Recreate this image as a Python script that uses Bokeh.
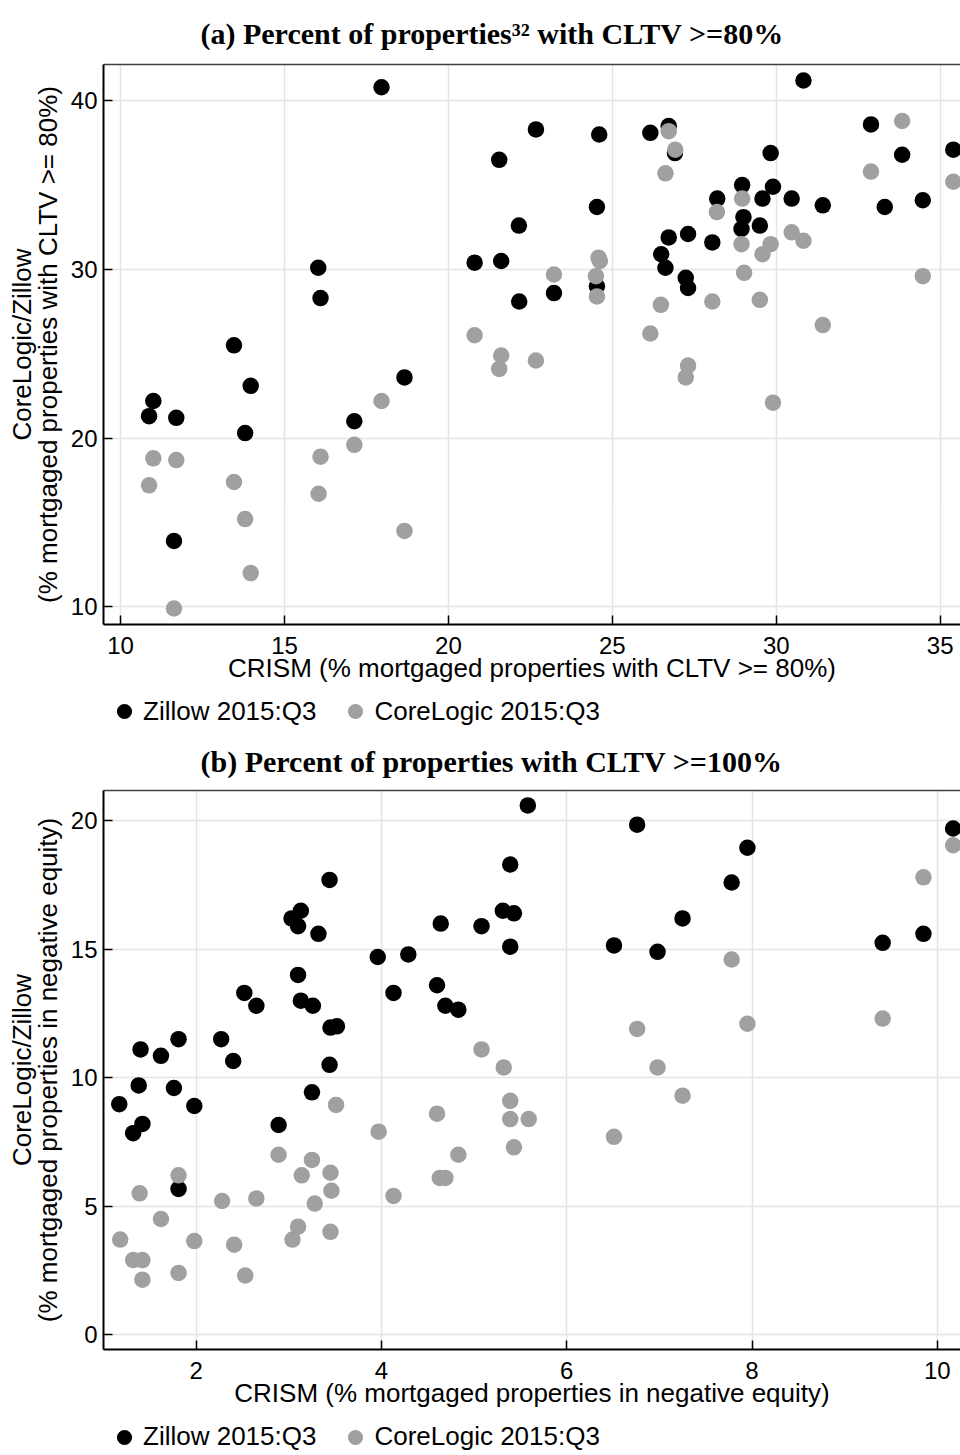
from bokeh.plotting import figure
from bokeh.models import Range1d, LinearAxis, Legend, LegendItem, FixedTicker
from bokeh.layouts import column
from bokeh.embed import file_html
from bokeh.resources import INLINE

# ---- Panel (a): percent of properties with CLTV >= 80% ----
a_zillow_x = [10.87, 11.0, 11.7, 11.63, 13.46, 13.8, 13.97, 16.03, 16.1, 17.13, 17.96, 18.66,
              20.8, 21.55, 21.61, 22.15, 22.16, 22.67, 23.22, 24.53, 24.53, 24.6, 26.16, 26.49,
              26.62, 26.72, 26.72, 26.91, 27.24, 27.31, 27.31, 28.05, 28.2, 28.94, 28.96, 29.0,
              29.5, 29.58, 29.83, 29.9, 30.47, 30.83, 31.42, 32.89, 33.31, 33.84, 34.47, 35.4]
a_zillow_y = [21.3, 22.2, 21.2, 13.9, 25.5, 20.3, 23.1, 30.1, 28.3, 21.0, 40.8, 23.6,
              30.4, 36.5, 30.5, 32.6, 28.1, 38.3, 28.6, 33.7, 29.0, 38.0, 38.1, 30.9,
              30.1, 38.5, 31.9, 36.9, 29.5, 28.9, 32.1, 31.6, 34.2, 32.4, 35.0, 33.1,
              32.6, 34.2, 36.9, 34.9, 34.2, 41.2, 33.8, 38.6, 33.7, 36.8, 34.1, 37.1]
a_core_x = [10.87, 11.0, 11.7, 11.63, 13.46, 13.8, 13.97, 16.04, 16.1, 17.13, 17.96, 18.66,
            20.8, 21.55, 21.61, 22.67, 23.22, 24.5, 24.53, 24.58, 24.62, 26.16, 26.48, 26.62,
            26.72, 26.92, 27.24, 27.31, 28.05, 28.19, 28.94, 28.96, 29.02, 29.5, 29.58, 29.83,
            29.9, 30.47, 30.83, 31.42, 32.89, 33.84, 34.47, 35.4]
a_core_y = [17.2, 18.8, 18.7, 9.9, 17.4, 15.2, 12.0, 16.7, 18.9, 19.6, 22.2, 14.5,
            26.1, 24.1, 24.9, 24.6, 29.7, 29.6, 28.4, 30.7, 30.5, 26.2, 27.9, 35.7,
            38.2, 37.1, 23.6, 24.3, 28.1, 33.4, 31.5, 34.2, 29.8, 28.2, 30.9, 31.5,
            22.1, 32.2, 31.7, 26.7, 35.8, 38.8, 29.6, 35.2]
a_xticks = [10, 15, 20, 25, 30, 35]
a_yticks = [10, 20, 30, 40]

# ---- Panel (b): percent of properties with CLTV >= 100% ----
b_zillow_x = [1.17, 1.32, 1.38, 1.40, 1.42, 1.62, 1.76, 1.81, 1.81, 1.98, 2.27, 2.40, 2.52,
              2.65, 2.89, 3.03, 3.10, 3.10, 3.13, 3.13, 3.25, 3.26, 3.32, 3.44, 3.44, 3.45,
              3.52, 3.96, 4.13, 4.29, 4.60, 4.64, 4.69, 4.83, 5.08, 5.31, 5.39, 5.39, 5.43,
              5.58, 6.51, 6.76, 6.98, 7.25, 7.78, 7.95, 9.41, 9.85, 10.17]
b_zillow_y = [8.97, 7.84, 9.7, 11.1, 8.2, 10.85, 9.6, 11.5, 5.67, 8.9, 11.5, 10.65, 13.3,
              12.8, 8.16, 16.2, 15.9, 14.0, 16.5, 13.0, 9.43, 12.8, 15.6, 17.7, 10.5, 11.95,
              12.0, 14.7, 13.3, 14.8, 13.6, 16.0, 12.8, 12.65, 15.9, 16.5, 18.3, 15.1, 16.4,
              20.6, 15.15, 19.85, 14.9, 16.2, 17.6, 18.95, 15.25, 15.6, 19.7]
b_core_x = [1.18, 1.32, 1.39, 1.42, 1.42, 1.62, 1.81, 1.81, 1.98, 2.28, 2.41, 2.53, 2.65,
            2.89, 3.04, 3.10, 3.14, 3.25, 3.28, 3.45, 3.46, 3.45, 3.51, 3.97, 4.13, 4.60,
            4.63, 4.69, 4.83, 5.08, 5.32, 5.39, 5.39, 5.43, 5.59, 6.51, 6.76, 6.98, 7.25,
            7.78, 7.95, 9.41, 9.85, 10.17]
b_core_y = [3.7, 2.9, 5.5, 2.9, 2.14, 4.5, 6.2, 2.4, 3.64, 5.2, 3.5, 2.3, 5.3,
            7.0, 3.7, 4.2, 6.2, 6.8, 5.1, 6.3, 5.6, 4.0, 8.94, 7.9, 5.4, 8.6,
            6.1, 6.1, 7.0, 11.1, 10.4, 9.1, 8.39, 7.29, 8.39, 7.7, 11.9, 10.4, 9.3,
            14.6, 12.1, 12.3, 17.8, 19.05]
b_xticks = [2, 4, 6, 8, 10]
b_yticks = [0, 5, 10, 15, 20]

series_names = ["Zillow 2015:Q3", "CoreLogic 2015:Q3"]
series_colors = ["#000000", "#a0a0a0"]

SANS = "Liberation Sans"
SERIF = "Liberation Serif"
W = 960


def make_panel(title, zx, zy, cx, cy, xr, yr, xticks, yticks, xlabel, ylabel,
               height, border_top, border_bottom, title_standoff):
    p = figure(width=W, height=height, output_backend="svg", toolbar_location=None,
               x_range=Range1d(*xr), y_range=Range1d(*yr),
               min_border_left=103, min_border_right=0,
               min_border_top=border_top, min_border_bottom=border_bottom)
    p.outline_line_color = None
    p.background_fill_color = "white"
    p.border_fill_color = "white"

    p.title.text = title
    p.title.text_font = SERIF
    p.title.text_font_style = "bold"
    p.title.text_font_size = "30px"
    p.title.align = "left"
    p.title.offset = 97
    p.title.standoff = title_standoff
    p.title.text_color = "black"

    for ax, ticks in ((p.xaxis[0], xticks), (p.yaxis[0], yticks)):
        ax.ticker = FixedTicker(ticks=ticks)
        ax.major_tick_in = 9
        ax.major_tick_out = 0
        ax.minor_tick_in = 0
        ax.minor_tick_out = 0
        ax.axis_line_color = "black"
        ax.axis_line_width = 2
        ax.major_tick_line_color = "black"
        ax.major_tick_line_width = 1.5
        ax.major_label_text_font = SANS
        ax.major_label_text_font_size = "24px"
        ax.major_label_text_color = "black"
        ax.axis_label_text_font = SANS
        ax.axis_label_text_font_size = "26px"
        ax.axis_label_text_font_style = "normal"
        ax.axis_label_text_color = "black"
        ax.axis_label_text_line_height = 0.87
    p.xaxis.axis_label = xlabel
    p.yaxis.axis_label = ylabel
    p.xaxis.major_label_standoff = 12
    p.xaxis.axis_label_standoff = -4
    p.yaxis.major_label_standoff = 6
    p.yaxis.axis_label_standoff = 5

    # top frame border only (no ticks, no labels)
    top = LinearAxis(ticker=FixedTicker(ticks=[]), major_label_text_font_size="0px",
                     major_tick_in=0, major_tick_out=0, minor_tick_in=0, minor_tick_out=0,
                     axis_line_color="#404040", axis_line_width=1.5)
    p.add_layout(top, "above")

    p.xgrid.ticker = FixedTicker(ticks=xticks)
    p.ygrid.ticker = FixedTicker(ticks=yticks)
    for g in (p.xgrid[0], p.ygrid[0]):
        g.grid_line_color = "#e4e4e4"
        g.grid_line_width = 1.5

    p.scatter(x=zx, y=zy, size=16.5, fill_color=series_colors[0], line_color=None)
    p.scatter(x=cx, y=cy, size=16.5, fill_color=series_colors[1], line_color=None)
    return p


def make_legend(height, zx, zy, cx, cy):
    # legend strip: the series renderers sit outside this strip's view, only the key shows
    q = figure(width=W, height=height, output_backend="svg", toolbar_location=None,
               x_range=Range1d(-1001, -1000), y_range=Range1d(-1001, -1000),
               x_axis_location=None, y_axis_location=None,
               min_border=0, min_border_left=0, min_border_right=0,
               min_border_top=0, min_border_bottom=0)
    q.outline_line_color = None
    q.xgrid.visible = False
    q.ygrid.visible = False
    r1 = q.scatter(x=zx, y=zy, size=16.5, fill_color=series_colors[0], line_color=None)
    r2 = q.scatter(x=cx, y=cy, size=16.5, fill_color=series_colors[1], line_color=None)
    legend = Legend(items=[LegendItem(label=series_names[0], renderers=[r1]),
                           LegendItem(label=series_names[1], renderers=[r2])],
                    orientation="horizontal", location="left",
                    glyph_width=38, glyph_height=38, label_standoff=0, spacing=20,
                    padding=0, margin=2, border_line_color=None,
                    background_fill_alpha=0,
                    label_text_font=SANS, label_text_font_size="26px",
                    label_text_color="black")
    q.add_layout(legend, "center")
    return q


pa = make_panel("(a) Percent of properties\u00b3\u00b2 with CLTV >=80%",
                a_zillow_x, a_zillow_y, a_core_x, a_core_y,
                (9.48, 35.62), (8.95, 42.15), a_xticks, a_yticks,
                "CRISM (% mortgaged properties with CLTV >= 80%)",
                "CoreLogic/Zillow\n(% mortgaged properties with CLTV >= 80%)",
                693, 63, 69, 29)
la = make_legend(36, a_zillow_x, a_zillow_y, a_core_x, a_core_y)
pb = make_panel("(b) Percent of properties with CLTV >=100%",
                b_zillow_x, b_zillow_y, b_core_x, b_core_y,
                (1.0, 10.25), (-0.58, 21.18), b_xticks, b_yticks,
                "CRISM (% mortgaged properties in negative equity)",
                "CoreLogic/Zillow\n(% mortgaged properties in negative equity)",
                689, 60, 69, 26)
lb = make_legend(37, b_zillow_x, b_zillow_y, b_core_x, b_core_y)

layout = column(pa, la, pb, lb, spacing=0)
open("out.html", "w").write(file_html(layout, INLINE))
